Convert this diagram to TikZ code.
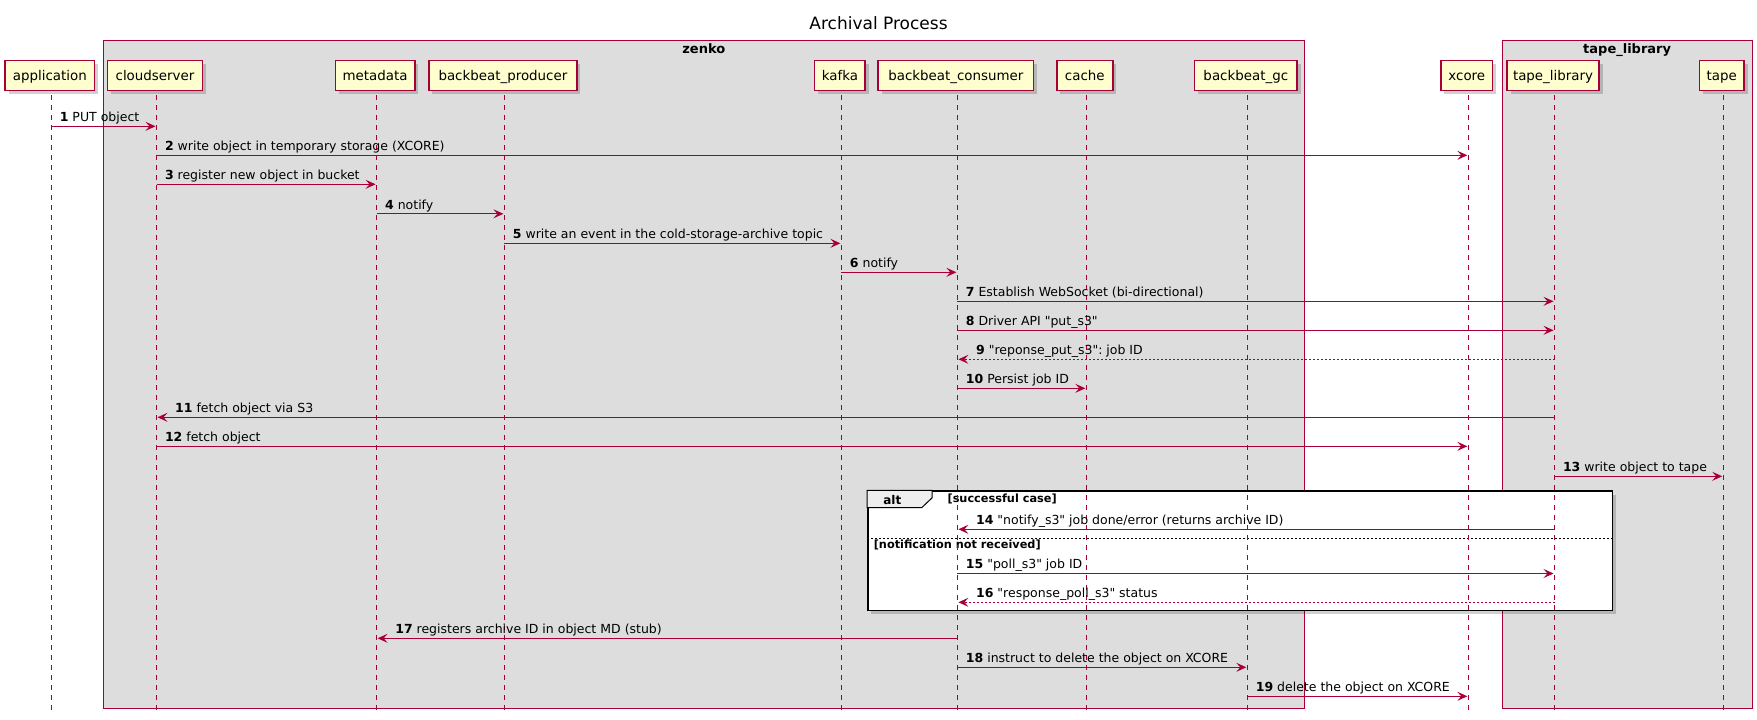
\documentclass[tikz,border=0pt]{standalone}
\usepackage{fontspec}
\setmainfont[Ligatures=TeXOff]{DejaVu Sans}
\usetikzlibrary{arrows.meta,shadows}
\frenchspacing
\definecolor{pu}{HTML}{A80036}
\definecolor{pbox}{HTML}{FEFECE}
\definecolor{grpfill}{HTML}{DDDDDD}
\definecolor{tabfill}{HTML}{EEEEEE}
\newcommand\msgR[6][msg]{%
  \draw[#1] (#2 |- #4) -- (#3 |- #4);
  \node[lbl, xshift=8.3pt, yshift=4.7pt] (lbl#5) at (#2 |- #4) {\textbf{#5} #6};}
\newcommand\msgL[6][msg]{%
  \draw[#1] (#2 |- #4) -- (#3 |- #4);
  \node[lbl, xshift=18.5pt, yshift=4.7pt] (lbl#5) at (#3 |- #4) {\textbf{#5} #6};}
\begin{document}
\begin{tikzpicture}[x=1pt,y=-1pt,
  part/.style={draw=pu, line width=1.5pt, fill=pbox, minimum height=30pt,
    inner xsep=0pt, inner ysep=0pt, text height=12.4pt, text depth=3pt,
    font=\fontsize{13.4}{16}\selectfont,
    drop shadow={shadow xshift=3.5pt,shadow yshift=-3.5pt,opacity=0.18,fill=black}},
  lifeline/.style={draw=pu, line width=1pt, dash pattern=on 5pt off 5pt},
  grp/.style={draw=pu, line width=1pt, fill=grpfill, inner sep=0pt},
  grplbl/.style={font=\fontsize{13}{15}\selectfont\bfseries, anchor=base, inner sep=0pt},
  guard/.style={font=\fontsize{11.3}{13}\selectfont\bfseries, anchor=base west, inner sep=0pt},
  msg/.style={draw=pu, line width=1pt, -{Stealth[length=10pt,width=9pt,inset=4pt]}, shorten >=1pt},
  ret/.style={msg, dash pattern=on 2pt off 2pt},
  lbl/.style={font=\fontsize{12.5}{15}\selectfont, anchor=base west, inner sep=0pt},
]
\useasboundingbox (0,0) rectangle (1757,720);
\fill[white] (0,0) rectangle (1757,720);

% title
\node[font=\fontsize{17}{20}\selectfont, anchor=base, inner sep=0pt] (title) at (878.5,29.3) {Archival Process};

% groups
\node[grp, minimum width=1201pt, minimum height=668.4pt] (zenko) at (703.8,374.5) {};
\node[grplbl] (zenko-l) at (703.8,53) {zenko};
\node[grp, minimum width=249.7pt, minimum height=668.4pt] (tapegrp) at (1627.15,374.5) {};
\node[grplbl] (tapegrp-l) at (1627.15,53) {tape\_library};

% alt frame
\node[draw=black, line width=1.5pt, fill=white, minimum width=744.5pt, minimum height=119.6pt,
  inner sep=0pt, drop shadow={shadow xshift=3.5pt,shadow yshift=-3.5pt,opacity=0.18,fill=black}]
  (alt) at (1240.05,550.8) {};
\draw[black, line width=1pt, fill=tabfill] (alt.north west) -- ++(65.1,0) -- ++(0,7.5)
  -- ++(-10.3,9.8) -- ++(-54.8,0) -- cycle;
\node[font=\fontsize{12}{14}\selectfont\bfseries, anchor=base, inner sep=0pt] (alt-l) at (892.3,504) {alt};
\node[guard] (guard1) at (947.4,502.5) {[successful case]};
\node[guard] (guard2) at (873.6,548.7) {[notification not received]};
\coordinate (sepy) at (0,538.3);
\draw[black, line width=0.8pt, dash pattern=on 2pt off 2pt] (alt.west |- sepy) -- (alt.east |- sepy);

% participants
\coordinate (bot) at (0,710.7);
\foreach \n/\x/\w/\t in {app/51.3/89.2/application, cs/156.5/95/cloudserver,
   md/376.6/79.6/metadata, bp/504.4/148/backbeat\_producer, kafka/841.4/50.5/kafka,
   bc/957.4/155.6/backbeat\_consumer, cache/1086.3/56/cache, gc/1247.3/102.8/backbeat\_gc,
   xcore/1468.3/51.8/xcore, tl/1554.5/92/tape\_library, tape/1723.2/44.6/tape}{
  \coordinate (c-\n) at (\x,75.3);
  \draw[lifeline] (c-\n) -- (c-\n |- bot);
}
\foreach \n/\x/\w/\t in {app/51.3/89.2/application, cs/156.5/95/cloudserver,
   md/376.6/79.6/metadata, bp/504.4/148/backbeat\_producer, kafka/841.4/50.5/kafka,
   bc/957.4/155.6/backbeat\_consumer, cache/1086.3/56/cache, gc/1247.3/102.8/backbeat\_gc,
   xcore/1468.3/51.8/xcore, tl/1554.5/92/tape\_library, tape/1723.2/44.6/tape}{
  \node[part, minimum width=\w pt] (p-\n) at (\x-1.5,75.3) {\t};
}

% message rows
\foreach \i/\y in {1/126.3, 2/155.3, 3/184.3, 4/213.8, 5/243.3, 6/272.3, 7/301.3,
   8/330.3, 9/359.3, 10/388.3, 11/417.3, 12/446.3, 13/476.3, 14/529.3, 15/573.5,
   16/602.3, 17/638.3, 18/667.3, 19/696.3}{
  \coordinate (r\i) at (0,\y);
}

\msgR{c-app}{c-cs}{r1}{1}{PUT object}
\msgR{c-cs}{c-xcore}{r2}{2}{write object in temporary storage (XCORE)}
\msgR{c-cs}{c-md}{r3}{3}{register new object in bucket}
\msgR{c-md}{c-bp}{r4}{4}{notify}
\msgR{c-bp}{c-kafka}{r5}{5}{write an event in the cold-storage-archive topic}
\msgR{c-kafka}{c-bc}{r6}{6}{notify}
\msgR{c-bc}{c-tl}{r7}{7}{Establish WebSocket (bi-directional)}
\msgR{c-bc}{c-tl}{r8}{8}{Driver API "put\_s3"}
\msgL[ret]{c-tl}{c-bc}{r9}{9}{"reponse\_put\_s3": job ID}
\msgR{c-bc}{c-cache}{r10}{10}{Persist job ID}
\msgL{c-tl}{c-cs}{r11}{11}{fetch object via S3}
\msgR{c-cs}{c-xcore}{r12}{12}{fetch object}
\msgR{c-tl}{c-tape}{r13}{13}{write object to tape}
\msgL{c-tl}{c-bc}{r14}{14}{"notify\_s3" job done/error (returns archive ID)}
\msgR{c-bc}{c-tl}{r15}{15}{"poll\_s3" job ID}
\msgL[ret]{c-tl}{c-bc}{r16}{16}{"response\_poll\_s3" status}
\msgL{c-bc}{c-md}{r17}{17}{registers archive ID in object MD (stub)}
\msgR{c-bc}{c-gc}{r18}{18}{instruct to delete the object on XCORE}
\msgR{c-gc}{c-xcore}{r19}{19}{delete the object on XCORE}
\end{tikzpicture}
\end{document}
